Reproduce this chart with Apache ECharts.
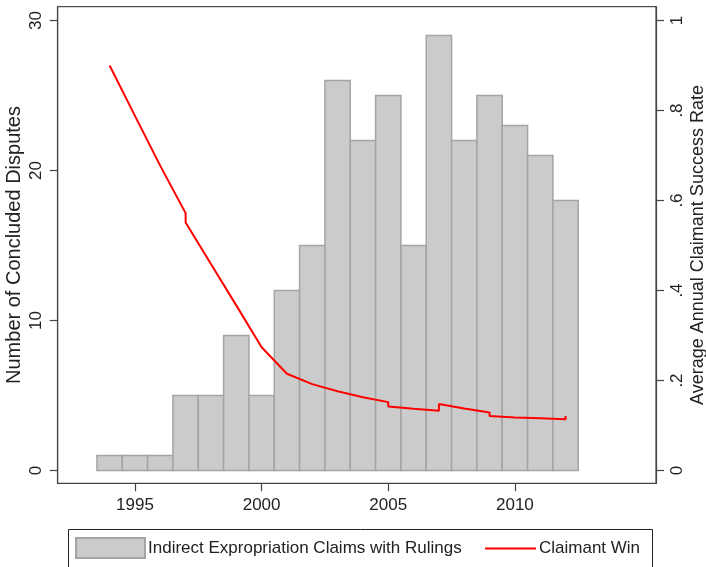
<!DOCTYPE html>
<html>
<head>
<meta charset="utf-8">
<script src="https://cdn.jsdelivr.net/npm/echarts@6/dist/echarts.min.js"></script>
<style>html,body{margin:0;padding:0;background:#fff;}#c{width:706px;height:567px;}</style>
</head>
<body>
<div id="c"></div>
<script>
// Data
const barYears = [1994,1995,1996,1997,1998,1999,2000,2001,2002,2003,2004,2005,2006,2007,2008,2009,2010,2011,2012];
const barCounts = [1,1,1,5,5,9,5,12,15,26,22,25,15,29,22,25,23,21,18];
const lineYears = [1994,1995,1996,1997,1997,1998,1999,2000,2001,2002,2003,2004,2005,2005,2006,2007,2007,2008,2009,2009,2010,2011,2012,2012];
const lineValues = [0.90,0.788,0.677,0.572,0.551,0.459,0.367,0.274,0.215,0.192,0.176,0.163,0.152,0.142,0.137,0.133,0.148,0.138,0.129,0.121,0.118,0.116,0.114,0.121];
const xTicks = [1995,2000,2005,2010];
const leftTicks = [0,10,20,30];
const rightTicks = [0,0.2,0.4,0.6,0.8,1];
const barName = 'Indirect Expropriation Claims with Rulings';
const lineName = 'Claimant Win';

const FONT = '"Liberation Sans", Arial, Helvetica, sans-serif';
const TXT = '#222';
const chart = echarts.init(document.getElementById('c'), null, {renderer:'canvas'});

const barData = barYears.map((y,i)=>[y, barCounts[i]]);
const lineData = lineYears.map((y,i)=>[y, lineValues[i]]);

chart.setOption({
  backgroundColor:'#fff',
  animation:false,
  textStyle:{fontFamily:FONT},
  grid:{left:57.7, top:6.7, right:50, bottom:83.7, show:true, borderColor:'#222', borderWidth:1, backgroundColor:'#fff', containLabel:false, outerBoundsMode:'none'},
  xAxis:{
    type:'value', min:1991.95, max:2015.57,
    axisLine:{show:true, onZero:false, lineStyle:{color:'#444', width:1.2}},
    axisTick:{show:true, length:8, customValues:xTicks, lineStyle:{color:'#444', width:1.2}},
    axisLabel:{show:true, customValues:xTicks, margin:14, fontSize:17, color:TXT, fontFamily:FONT, formatter:function(v){return String(Math.round(v));}},
    splitLine:{show:false}
  },
  yAxis:[{
    type:'value', position:'left', min:-0.853, max:30.92,
    name:'Number of Concluded Disputes', nameLocation:'middle', nameGap:33, nameMoveOverlap:false,
    nameTextStyle:{fontSize:20, color:TXT, fontFamily:FONT},
    axisLine:{show:true, lineStyle:{color:'#444', width:1.2}},
    axisTick:{show:true, length:8, customValues:leftTicks, lineStyle:{color:'#444', width:1.2}},
    axisLabel:{show:true, customValues:leftTicks, rotate:90, margin:13, fontSize:17, color:TXT, fontFamily:FONT},
    splitLine:{show:false}
  },{
    type:'value', position:'right', min:-0.0284, max:1.0307,
    name:'Average Annual Claimant Success Rate', nameLocation:'middle', nameGap:33, nameMoveOverlap:false,
    nameTextStyle:{fontSize:18, color:TXT, fontFamily:FONT},
    axisLine:{show:true, lineStyle:{color:'#444', width:1.2}},
    axisTick:{show:true, length:8, customValues:rightTicks, lineStyle:{color:'#444', width:1.2}},
    axisLabel:{show:true, customValues:rightTicks, rotate:90, margin:13, fontSize:17, color:TXT, fontFamily:FONT,
      formatter:function(v){ if(Math.abs(v)<1e-9) return '0'; if(Math.abs(v-1)<1e-9) return '1'; return String(Math.round(v*10)/10).replace(/^0/,''); }},
    splitLine:{show:false}
  }],
  legend:[{
    data:[{name:barName, icon:'rect'}],
    left:70, top:532, itemWidth:69, itemHeight:20, itemGap:10,
    textStyle:{fontSize:17, color:TXT, fontFamily:FONT, padding:[0,0,0,-2]},
    selectedMode:false
  },{
    data:[{name:lineName, icon:'rect'}],
    left:480, top:535, itemWidth:51, itemHeight:2,
    itemStyle:{color:'#ff0000', borderWidth:0},
    textStyle:{fontSize:17, color:TXT, fontFamily:FONT, padding:[0,0,0,-2]},
    selectedMode:false
  }],
  graphic:[{
    type:'rect', left:66, top:527, silent:true,
    shape:{width:584, height:45},
    style:{fill:'none', stroke:'#222', lineWidth:1}
  }],
  series:[{
    name:barName, type:'custom', xAxisIndex:0, yAxisIndex:0,
    itemStyle:{color:'#cbcbcb', borderColor:'#a4a4a4', borderWidth:1.5},
    data:barData,
    renderItem:function(params, api){
      const x = api.value(0), y = api.value(1);
      const p0 = api.coord([x-0.5, y]);
      const p1 = api.coord([x+0.5, 0]);
      return {type:'rect', shape:{x:p0[0], y:p0[1], width:p1[0]-p0[0], height:p1[1]-p0[1]},
        style:{fill:'#cbcbcb', stroke:'#a4a4a4', lineWidth:1.5}};
    }
  },{
    name:lineName, type:'line', xAxisIndex:0, yAxisIndex:1,
    data:lineData, symbol:'none', showSymbol:false,
    lineStyle:{color:'#ff0000', width:2},
    itemStyle:{color:'#ff0000'},
    z:5
  }]
});
</script>
</body>
</html>
